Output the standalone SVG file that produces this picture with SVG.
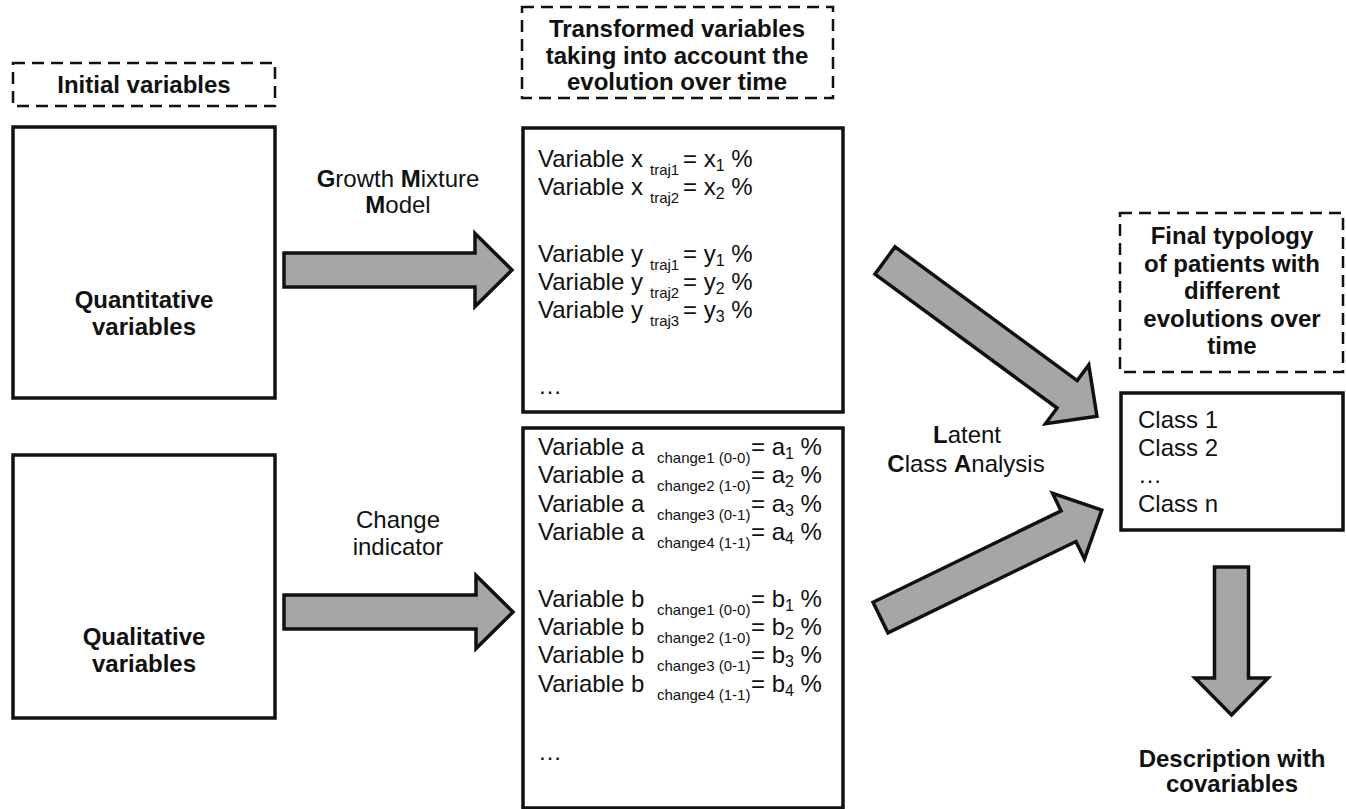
<svg xmlns="http://www.w3.org/2000/svg" width="1346" height="809" viewBox="0 0 1346 809">
<style>
text{font-family:"Liberation Sans",Arial,sans-serif;fill:#111;}
.b{font-weight:bold;font-size:24px;}
.r{font-size:24px;}
.c{text-anchor:middle;}
.sub{font-size:15px;}
.s2{font-size:16px;}
.box{fill:#fff;stroke:#111;stroke-width:3.5;}
.dash{fill:none;stroke:#111;stroke-width:2.5;stroke-dasharray:12 7;}
.arr{fill:#a6a6a6;stroke:#111;stroke-width:3.5;stroke-linejoin:miter;}
</style>
<rect width="1346" height="809" fill="#fff"/>
<g id="connectors">
<path class="arr" transform="translate(284,270)" d="M0,-17 L191,-17 L191,-36.5 L228,0 L191,36.5 L191,17 L0,17 Z"/>
<path class="arr" transform="translate(284,612)" d="M0,-17 L192,-17 L192,-36.5 L229,0 L192,36.5 L192,17 L0,17 Z"/>
<path class="arr" transform="translate(885,260.5) rotate(36.3)" d="M0,-17 L226,-17 L226,-36.5 L263,0 L226,36.5 L226,17 L0,17 Z"/>
<path class="arr" transform="translate(880.5,617.5) rotate(-25.9)" d="M0,-17 L209,-17 L209,-36.5 L246,0 L209,36.5 L209,17 L0,17 Z"/>
<path class="arr" transform="translate(1231.5,567) rotate(90)" d="M0,-17 L111,-17 L111,-36.5 L148,0 L111,36.5 L111,17 L0,17 Z"/>
<text class="r c" x="398" y="187"><tspan font-weight="bold">G</tspan>rowth <tspan font-weight="bold">M</tspan>ixture</text>
<text class="r c" x="398" y="213"><tspan font-weight="bold">M</tspan>odel</text>
<text class="r c" x="398" y="528">Change</text>
<text class="r c" x="398" y="555">indicator</text>
<text class="r c" x="967" y="443"><tspan font-weight="bold">L</tspan>atent</text>
<text class="r c" x="966" y="472"><tspan font-weight="bold">C</tspan>lass <tspan font-weight="bold">A</tspan>nalysis</text>
</g>
<g id="initial-label">
<rect class="dash" x="13" y="63" width="262" height="43"/>
<text class="b c" x="144" y="93">Initial variables</text>
</g>
<g id="quantitative">
<rect class="box" x="13" y="127" width="262" height="271"/>
<text class="b c" x="144" y="308">Quantitative</text>
<text class="b c" x="144" y="335">variables</text>
</g>
<g id="qualitative">
<rect class="box" x="13" y="455" width="262" height="263"/>
<text class="b c" x="144" y="645">Qualitative</text>
<text class="b c" x="144" y="672">variables</text>
</g>
<g id="transformed-label">
<rect class="dash" x="522" y="7" width="311" height="91"/>
<text class="b c" x="677" y="37">Transformed variables</text>
<text class="b c" x="677" y="64">taking into account the</text>
<text class="b c" x="677" y="90">evolution over time</text>
</g>
<g id="quant-transformed">
<rect class="box" x="523" y="128" width="320" height="284"/>
<text class="r" x="538" y="167">Variable x<tspan class="sub" x="650" dy="8">traj1</tspan><tspan x="683" dy="-8">= x</tspan><tspan class="s2" dy="4">1</tspan><tspan dy="-4"> %</tspan></text>
<text class="r" x="538" y="195">Variable x<tspan class="sub" x="650" dy="8">traj2</tspan><tspan x="683" dy="-8">= x</tspan><tspan class="s2" dy="4">2</tspan><tspan dy="-4"> %</tspan></text>
<text class="r" x="538" y="262">Variable y<tspan class="sub" x="650" dy="8">traj1</tspan><tspan x="683" dy="-8">= y</tspan><tspan class="s2" dy="4">1</tspan><tspan dy="-4"> %</tspan></text>
<text class="r" x="538" y="290">Variable y<tspan class="sub" x="650" dy="8">traj2</tspan><tspan x="683" dy="-8">= y</tspan><tspan class="s2" dy="4">2</tspan><tspan dy="-4"> %</tspan></text>
<text class="r" x="538" y="318">Variable y<tspan class="sub" x="650" dy="8">traj3</tspan><tspan x="683" dy="-8">= y</tspan><tspan class="s2" dy="4">3</tspan><tspan dy="-4"> %</tspan></text>
<text class="r" x="538" y="394">…</text>
</g>
<g id="qual-transformed">
<rect class="box" x="523" y="428" width="320" height="380"/>
<text class="r" x="538" y="455">Variable a<tspan class="sub" x="657" dy="8">change1 (0-0)</tspan><tspan x="751" dy="-8">= a</tspan><tspan class="s2" dy="4">1</tspan><tspan dy="-4"> %</tspan></text>
<text class="r" x="538" y="483">Variable a<tspan class="sub" x="657" dy="8">change2 (1-0)</tspan><tspan x="751" dy="-8">= a</tspan><tspan class="s2" dy="4">2</tspan><tspan dy="-4"> %</tspan></text>
<text class="r" x="538" y="512">Variable a<tspan class="sub" x="657" dy="8">change3 (0-1)</tspan><tspan x="751" dy="-8">= a</tspan><tspan class="s2" dy="4">3</tspan><tspan dy="-4"> %</tspan></text>
<text class="r" x="538" y="540">Variable a<tspan class="sub" x="657" dy="8">change4 (1-1)</tspan><tspan x="751" dy="-8">= a</tspan><tspan class="s2" dy="4">4</tspan><tspan dy="-4"> %</tspan></text>
<text class="r" x="538" y="607">Variable b<tspan class="sub" x="657" dy="8">change1 (0-0)</tspan><tspan x="751" dy="-8">= b</tspan><tspan class="s2" dy="4">1</tspan><tspan dy="-4"> %</tspan></text>
<text class="r" x="538" y="635">Variable b<tspan class="sub" x="657" dy="8">change2 (1-0)</tspan><tspan x="751" dy="-8">= b</tspan><tspan class="s2" dy="4">2</tspan><tspan dy="-4"> %</tspan></text>
<text class="r" x="538" y="663">Variable b<tspan class="sub" x="657" dy="8">change3 (0-1)</tspan><tspan x="751" dy="-8">= b</tspan><tspan class="s2" dy="4">3</tspan><tspan dy="-4"> %</tspan></text>
<text class="r" x="538" y="692">Variable b<tspan class="sub" x="657" dy="8">change4 (1-1)</tspan><tspan x="751" dy="-8">= b</tspan><tspan class="s2" dy="4">4</tspan><tspan dy="-4"> %</tspan></text>
<text class="r" x="538" y="760">…</text>
</g>
<g id="final-label">
<rect class="dash" x="1120" y="213" width="223" height="159"/>
<text class="b c" x="1232" y="244">Final typology</text>
<text class="b c" x="1232" y="272">of patients with</text>
<text class="b c" x="1232" y="299">different</text>
<text class="b c" x="1232" y="327">evolutions over</text>
<text class="b c" x="1232" y="354">time</text>
</g>
<g id="classes">
<rect class="box" x="1121" y="393" width="222" height="137"/>
<text class="r" x="1138" y="428">Class 1</text>
<text class="r" x="1138" y="456">Class 2</text>
<text class="r" x="1138" y="483">…</text>
<text class="r" x="1138" y="512">Class n</text>
</g>
<g id="description">
<text class="b c" x="1232" y="767">Description with</text>
<text class="b c" x="1232" y="792">covariables</text>
</g>
</svg>
